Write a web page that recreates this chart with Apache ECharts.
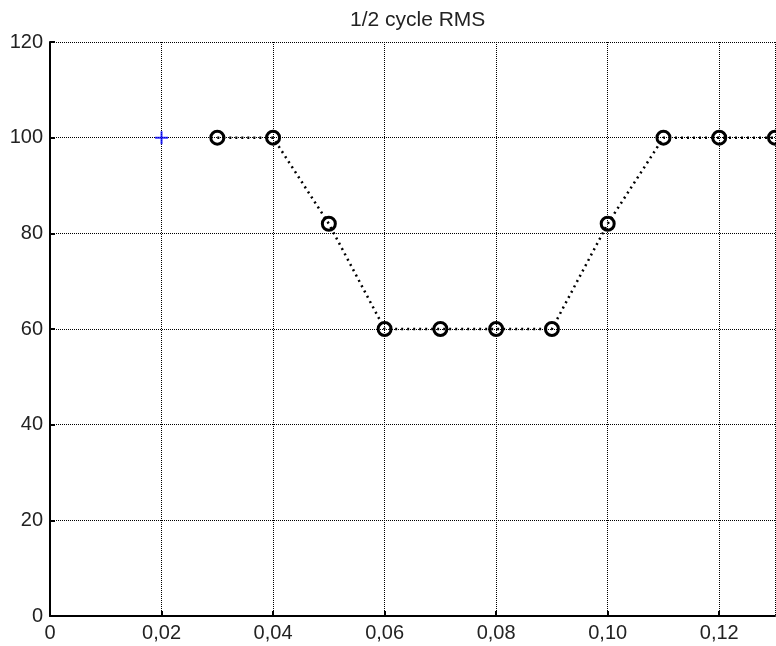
<!DOCTYPE html>
<html>
<head>
<meta charset="utf-8">
<script src="https://cdn.jsdelivr.net/npm/echarts@6/dist/echarts.min.js"></script>
<style>
html,body{margin:0;padding:0;background:#fff;}
#chart{width:776px;height:646px;}
</style>
</head>
<body>
<div id="chart"></div>
<script>
var titleText = '1/2 cycle RMS';
var xValues = [0.03, 0.04, 0.05, 0.06, 0.07, 0.08, 0.09, 0.10, 0.11, 0.12, 0.13];
var yValues = [100, 100, 82, 60, 60, 60, 60, 82, 100, 100, 100];
var markerX = [0.02];
var markerY = [100];
var xTicks = [0, 0.02, 0.04, 0.06, 0.08, 0.10, 0.12];
var xTickLabels = ['0', '0,02', '0,04', '0,06', '0,08', '0,10', '0,12'];
var yTickLabels = ['0', '20', '40', '60', '80', '100', '120'];

var chart = echarts.init(document.getElementById('chart'), null, {renderer: 'canvas'});
var lineData = xValues.map(function (x, i) { return [x, yValues[i]]; });
var markData = markerX.map(function (x, i) { return [x, markerY[i]]; });
var labelFont = {fontFamily: 'Liberation Sans, Arial, sans-serif', fontSize: 20, color: '#222'};

chart.setOption({
  animation: false,
  backgroundColor: '#fff',
  title: {
    text: titleText,
    left: 345,
    top: 5,
    textStyle: {fontFamily: 'Liberation Sans, Arial, sans-serif', fontSize: 21, fontWeight: 'normal', color: '#222'}
  },
  grid: {left: 50, right: 1, top: 42, bottom: 30, containLabel: false},
  xAxis: {
    type: 'value',
    min: 0,
    max: 0.13,
    interval: 0.02,
    axisLine: {show: true, onZero: false, lineStyle: {color: '#000', width: 2}},
    axisTick: {show: true, inside: true, length: 5, lineStyle: {color: '#000', width: 2}},
    axisLabel: Object.assign({
      margin: 7,
      showMaxLabel: false,
      formatter: function (v) {
        for (var i = 0; i < xTicks.length; i++) {
          if (Math.abs(xTicks[i] - v) < 1e-9) return xTickLabels[i];
        }
        return '';
      }
    }, labelFont),
    splitLine: {show: true, lineStyle: {color: '#000', width: 1, type: [1, 1]}}
  },
  yAxis: {
    type: 'value',
    min: 0,
    max: 120,
    interval: 20,
    axisLine: {show: true, onZero: false, lineStyle: {color: '#000', width: 2}},
    axisTick: {show: true, inside: true, length: 5, lineStyle: {color: '#000', width: 2}},
    axisLabel: Object.assign({
      margin: 7,
      formatter: function (v) { return yTickLabels[Math.round(v / 20)]; }
    }, labelFont),
    splitLine: {show: true, lineStyle: {color: '#000', width: 1, type: [1, 1]}}
  },
  series: [
    {
      type: 'line',
      data: lineData,
      symbol: 'circle',
      symbolSize: 13,
      showAllSymbol: true,
      clip: false,
      lineStyle: {color: '#000', width: 2.5, type: [2, 4]},
      itemStyle: {color: 'rgba(255,255,255,0)', borderColor: '#000', borderWidth: 3}
    },
    {
      type: 'scatter',
      data: markData,
      symbol: 'path://M0,5.5h13v2h-13z M5.5,0h2v13h-2z',
      symbolSize: 13,
      itemStyle: {color: '#0000ff'}
    }
  ]
});
</script>
</body>
</html>
